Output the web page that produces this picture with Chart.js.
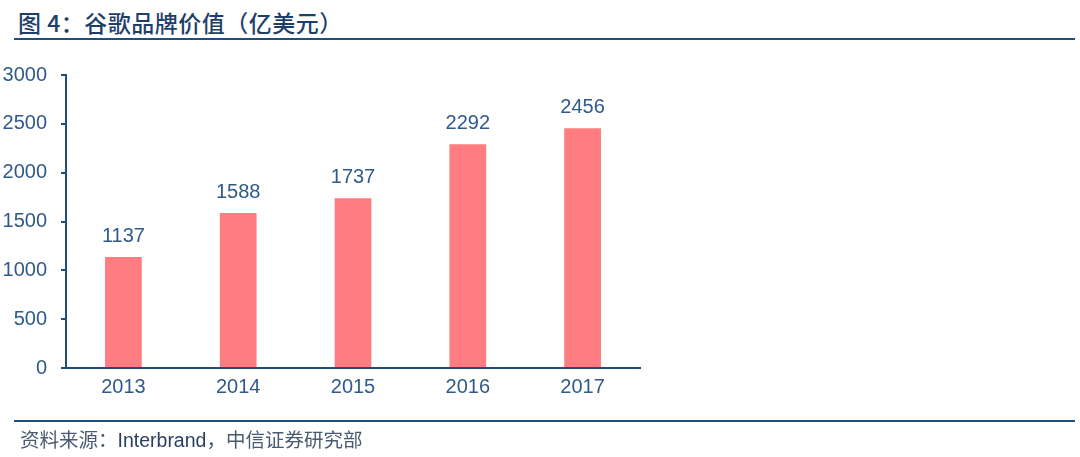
<!DOCTYPE html>
<html lang="zh">
<head>
    <meta charset="UTF-8">
    <title>谷歌品牌价值</title>
    <style>
        body {
            margin: 0;
            background: #ffffff;
            width: 1080px;
            height: 457px;
            position: relative;
            overflow: hidden;
            font-family: 'Liberation Sans', 'Noto Sans CJK SC', sans-serif;
        }
        .title {
            position: absolute;
            left: 18px;
            top: 6px;
            font-family: 'Noto Sans CJK SC', sans-serif;
            font-size: 23px;
            font-weight: 500;
            color: #1f3f6b;
            line-height: 32px;
            white-space: nowrap;
            letter-spacing: 0.5px;
        }
        .rule {
            position: absolute;
            left: 14px;
            width: 1061px;
            height: 2px;
            background: #1f4e79;
        }
        .source {
            position: absolute;
            left: 20px;
            top: 425px;
            font-family: 'Noto Sans CJK SC', sans-serif;
            font-size: 19.5px;
            color: #4a5a72;
            line-height: 28px;
            white-space: nowrap;
        }
        .source span {
            font-family: 'Liberation Sans', sans-serif;
            color: #2a3f60;
        }
        #wrap {
            position: absolute;
            left: 0;
            top: 0;
            width: 1080px;
            height: 457px;
        }
    </style>
</head>
<body>
<div class="title">图 4：谷歌品牌价值（亿美元）</div>
<div class="rule" style="top: 38px;"></div>
<div id="wrap"><canvas id="brandChart"></canvas></div>
<div class="rule" style="top: 420px;"></div>
<div class="source">资料来源：<span>Interbrand</span>，中信证券研究部</div>

<script src="https://cdn.jsdelivr.net/npm/chart.js"></script>
<script>
    const years = ['2013', '2014', '2015', '2016', '2017'];
    const brandValue = [1137, 1588, 1737, 2292, 2456];
    const yTicks = [0, 500, 1000, 1500, 2000, 2500, 3000];

    const axisColor = '#1f4e79';
    const textColor = '#2f5a8a';

    // подписи значений над столбцами
    const valueLabels = {
        id: 'valueLabels',
        afterDatasetsDraw(chart) {
            const ctx = chart.ctx;
            const meta = chart.getDatasetMeta(0);
            ctx.save();
            ctx.font = '20px "Liberation Sans", Arial, sans-serif';
            ctx.fillStyle = textColor;
            ctx.textAlign = 'center';
            ctx.textBaseline = 'alphabetic';
            meta.data.forEach((bar, i) => {
                ctx.fillText(String(brandValue[i]), bar.x, bar.y - 15);
            });
            ctx.restore();
        }
    };

    const ctx = document.getElementById('brandChart').getContext('2d');
    new Chart(ctx, {
        type: 'bar',
        data: {
            labels: years,
            datasets: [{
                data: brandValue,
                backgroundColor: '#ff7c80',
                borderWidth: 0,
                barPercentage: 0.64,
                categoryPercentage: 0.5
            }]
        },
        options: {
            responsive: true,
            maintainAspectRatio: false,
            animation: false,
            layout: {
                padding: { left: 0, right: 440, top: 75, bottom: 0 }
            },
            plugins: {
                legend: { display: false },
                tooltip: { enabled: false }
            },
            scales: {
                x: {
                    grid: { display: false, drawTicks: false },
                    border: { display: true, color: axisColor, width: 2 },
                    ticks: {
                        color: textColor,
                        padding: 7,
                        font: { family: '"Liberation Sans", Arial, sans-serif', size: 20 }
                    },
                    afterFit(scale) { scale.height = 89; }
                },
                y: {
                    min: 0,
                    max: 3000,
                    afterBuildTicks(scale) {
                        scale.ticks = yTicks.map(v => ({ value: v }));
                    },
                    grid: {
                        display: true,
                        drawOnChartArea: false,
                        drawTicks: true,
                        tickLength: 5,
                        color: axisColor,
                        lineWidth: 2
                    },
                    border: { display: true, color: axisColor, width: 2 },
                    ticks: {
                        color: textColor,
                        padding: 14,
                        font: { family: '"Liberation Sans", Arial, sans-serif', size: 20 },
                        callback: (v) => String(v)
                    },
                    afterFit(scale) { scale.width = 66; }
                }
            }
        },
        plugins: [valueLabels]
    });
</script>
</body>
</html>
